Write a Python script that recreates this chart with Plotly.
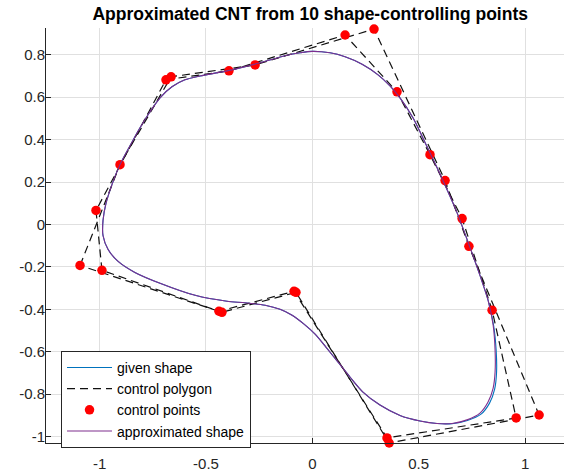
import plotly.graph_objects as go

# Outline of the given CNT cross-section (closed curve, clockwise from the top)
given_x = [-0.001, 0.083, 0.154, 0.234, 0.309, 0.365, 0.412, 0.473, 0.539, 0.614,
           0.680, 0.741, 0.788, 0.826, 0.852, 0.864, 0.866, 0.857, 0.833, 0.793,
           0.729, 0.657, 0.586, 0.506, 0.412, 0.318, 0.238, 0.177, 0.121, 0.064,
           0.013, -0.039, -0.095, -0.152, -0.222, -0.316, -0.401, -0.551, -0.716, -0.834,
           -0.913, -0.960, -0.984, -0.984, -0.970, -0.942, -0.904, -0.857, -0.810, -0.763,
           -0.716, -0.660, -0.599, -0.528, -0.401, -0.246, -0.128, -0.058]
given_y = [0.816, 0.809, 0.790, 0.755, 0.705, 0.653, 0.597, 0.503, 0.367, 0.207,
           0.056, -0.108, -0.240, -0.357, -0.475, -0.592, -0.696, -0.776, -0.842, -0.894,
           -0.924, -0.939, -0.938, -0.926, -0.900, -0.851, -0.790, -0.719, -0.649, -0.578,
           -0.517, -0.470, -0.428, -0.400, -0.381, -0.369, -0.362, -0.334, -0.277, -0.226,
           -0.174, -0.118, -0.052, 0.019, 0.099, 0.188, 0.282, 0.371, 0.456, 0.531,
           0.597, 0.649, 0.682, 0.700, 0.724, 0.762, 0.795, 0.809]

# Outline produced by the spline approximation
approx_x = [-0.001, 0.083, 0.154, 0.234, 0.309, 0.365, 0.412, 0.473, 0.539, 0.614,
            0.680, 0.741, 0.788, 0.826, 0.850, 0.859, 0.859, 0.850, 0.826, 0.788,
            0.727, 0.657, 0.586, 0.506, 0.412, 0.318, 0.238, 0.177, 0.121, 0.064,
            0.013, -0.039, -0.095, -0.152, -0.222, -0.316, -0.401, -0.551, -0.716, -0.834,
            -0.913, -0.960, -0.984, -0.984, -0.970, -0.942, -0.904, -0.857, -0.810, -0.763,
            -0.716, -0.660, -0.599, -0.528, -0.401, -0.246, -0.128, -0.058]
approx_y = [0.816, 0.809, 0.790, 0.755, 0.705, 0.653, 0.597, 0.503, 0.367, 0.207,
            0.056, -0.108, -0.240, -0.357, -0.475, -0.592, -0.696, -0.771, -0.837, -0.889,
            -0.921, -0.938, -0.938, -0.926, -0.900, -0.851, -0.790, -0.719, -0.649, -0.578,
            -0.517, -0.470, -0.428, -0.400, -0.381, -0.369, -0.362, -0.334, -0.277, -0.226,
            -0.174, -0.118, -0.052, 0.019, 0.099, 0.188, 0.282, 0.371, 0.456, 0.531,
            0.597, 0.649, 0.682, 0.700, 0.724, 0.762, 0.795, 0.809]

# Control points of the given shape
ctrl_given_x = [-0.989, -1.017, -0.688, -0.392, 0.154, 0.398, 0.553, 0.704, 0.845,
                0.958, 0.351, -0.086, -0.439]
ctrl_given_y = [-0.216, 0.066, 0.682, 0.724, 0.893, 0.625, 0.329, 0.028, -0.404,
                -0.912, -1.006, -0.315, -0.409]

# Control points of the approximated shape
ctrl_approx_x = [-1.092, -0.904, -0.664, -0.269, 0.290, 0.624, 0.736, 1.066,
                 0.361, -0.077, -0.425]
ctrl_approx_y = [-0.193, 0.282, 0.696, 0.752, 0.921, 0.207, -0.103, -0.898,
                 -1.030, -0.320, -0.414]

x_tick_vals = [-1, -0.5, 0, 0.5, 1]
x_tick_text = ["-1", "-0.5", "0", "0.5", "1"]
y_tick_vals = [-1, -0.8, -0.6, -0.4, -0.2, 0, 0.2, 0.4, 0.6, 0.8]
y_tick_text = ["-1", "-0.8", "-0.6", "-0.4", "-0.2", "0", "0.2", "0.4", "0.6", "0.8"]


def closed(values, start=0):
    """Return a closed loop of the points, beginning at index `start`."""
    values = list(values)
    loop = values[start:] + values[:start]
    return loop + [loop[0]]


# Begin the smoothed outlines on a nearly straight stretch so the seam is hidden
SEAM = 10

FONT = "Liberation Sans, Arial, Helvetica, sans-serif"
AXIS_COLOR = "#262626"
GRID_COLOR = "#e0e0e0"
DASH = "8px,5px"

fig = go.Figure()

fig.add_trace(go.Scatter(
    x=closed(given_x, SEAM), y=closed(given_y, SEAM), mode="lines", name="given shape",
    line=dict(color="#0072BD", width=1.1, shape="spline", smoothing=0.8),
))
fig.add_trace(go.Scatter(
    x=closed(ctrl_given_x), y=closed(ctrl_given_y), mode="lines", name="control polygon",
    line=dict(color="#111111", width=1.2, dash=DASH), legendgroup="poly",
))
fig.add_trace(go.Scatter(
    x=closed(ctrl_approx_x), y=closed(ctrl_approx_y), mode="lines", name="control polygon",
    line=dict(color="#111111", width=1.2, dash=DASH), legendgroup="poly", showlegend=False,
))
fig.add_trace(go.Scatter(
    x=ctrl_given_x + ctrl_approx_x, y=ctrl_given_y + ctrl_approx_y, mode="markers",
    name="control points", marker=dict(color="#ff0000", size=9.5, line=dict(width=0)),
    cliponaxis=False,
))
fig.add_trace(go.Scatter(
    x=closed(approx_x, SEAM), y=closed(approx_y, SEAM), mode="lines", name="approximated shape",
    line=dict(color="#7E2F8E", width=1.1, shape="spline", smoothing=0.8),
))

axis_common = dict(
    showgrid=True, gridcolor=GRID_COLOR, gridwidth=1, zeroline=False,
    showline=True, linecolor=AXIS_COLOR, linewidth=1, mirror=False,
    ticks="inside", ticklen=5, tickcolor=AXIS_COLOR, tickwidth=1,
    tickfont=dict(family=FONT, size=15, color=AXIS_COLOR),
)

fig.update_layout(
    width=564, height=472,
    margin=dict(l=46, r=0, t=28, b=29),
    paper_bgcolor="white", plot_bgcolor="white",
    title=dict(
        text="<b>Approximated CNT from 10 shape-controlling points</b>",
        x=0.51, xref="paper", xanchor="center",
        y=1 - 14 / 472, yref="container", yanchor="middle",
        font=dict(family=FONT, size=17.5, color="#000000"),
    ),
    xaxis=dict(range=[-1.252, 1.183], tickvals=x_tick_vals, ticktext=x_tick_text,
               ticklabelstandoff=7, **axis_common),
    yaxis=dict(range=[-1.03, 0.926], tickvals=y_tick_vals, ticktext=y_tick_text,
               ticklabelstandoff=-3, **axis_common),
    showlegend=True,
    legend=dict(
        x=0.029, y=0.222, xanchor="left", yanchor="top",
        bgcolor="white", bordercolor=AXIS_COLOR, borderwidth=1,
        font=dict(family=FONT, size=14, color="#000000"),
        itemwidth=45, tracegroupgap=0,
    ),
)

fig.write_html("out.html")
